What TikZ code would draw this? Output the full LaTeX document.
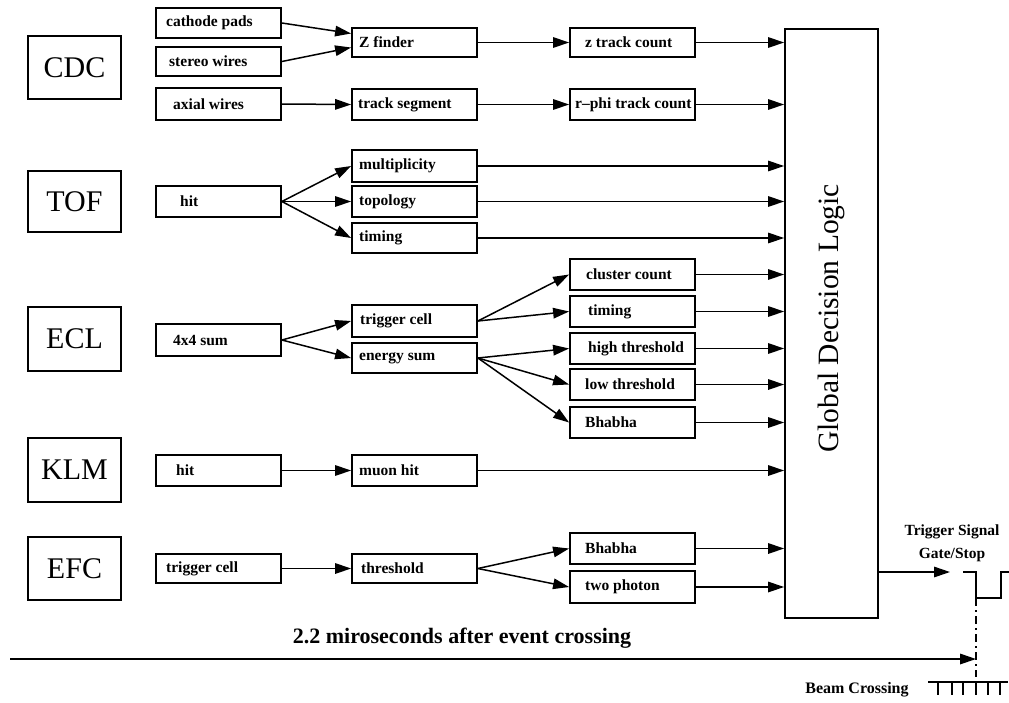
\documentclass[tikz,border=0pt]{standalone}
\usepackage{fontspec}
\setmainfont{Liberation Serif}
\usetikzlibrary{arrows.meta,fit}
\begin{document}
\begin{tikzpicture}[x=1pt,y=-1pt,
  box/.style={draw,line width=1.8pt,inner sep=0pt},
  lbl/.style={anchor=west,inner sep=0pt,font=\bfseries\fontsize{15.5}{15.5}\selectfont},
  big/.style={inner sep=0pt,font=\fontsize{30}{30}\selectfont},
  arr/.style={line width=1.5pt,-{Triangle[length=16pt,width=10.5pt]}},
  wire/.style={line width=1.5pt}]
\useasboundingbox (0,0) rectangle (1009,702);
% detector boxes
\node[box,fit={(28,36) (121,99)}] (cdc) {};
\node[big] (cdc-t) at (cdc.center) {CDC};
\node[box,fit={(28,171) (121,232)}] (tof) {};
\node[big] (tof-t) at (tof.center) {TOF};
\node[box,fit={(28,307) (121,371)}] (ecl) {};
\node[big] (ecl-t) at (ecl.center) {ECL};
\node[box,fit={(28,438) (121,502)}] (klm) {};
\node[big] (klm-t) at (klm.center) {KLM};
\node[box,fit={(28,537) (121,600)}] (efc) {};
\node[big] (efc-t) at (efc.center) {EFC};
% column 1
\node[box,fit={(156,8) (281,38)}] (cp) {};
\node[lbl] (cp-t) at (166,0 |- cp.center) {cathode pads};
\node[box,fit={(156,47) (281,76)}] (sw) {};
\node[lbl] (sw-t) at (169,0 |- sw.center) {stereo wires};
\node[box,fit={(156,88) (281,120)}] (aw) {};
\node[lbl] (aw-t) at (173,0 |- aw.center) {axial wires};
\node[box,fit={(156,186) (281,217)}] (th) {};
\node[lbl] (th-t) at (180,0 |- th.center) {hit};
\node[box,fit={(156,324) (281,356)}] (sum) {};
\node[lbl] (sum-t) at (173,0 |- sum.center) {4x4 sum};
\node[box,fit={(156,455) (281,486)}] (kh) {};
\node[lbl] (kh-t) at (176,0 |- kh.center) {hit};
\node[box,fit={(156,554) (281,583)}] (et) {};
\node[lbl] (et-t) at (166,0 |- et.center) {trigger cell};
% column 2
\node[box,fit={(352,28) (477,57)}] (zf) {};
\node[lbl] (zf-t) at (359,0 |- zf.center) {Z finder};
\node[box,fit={(352,89) (477,120)}] (ts) {};
\node[lbl] (ts-t) at (358,0 |- ts.center) {track segment};
\node[box,fit={(352,150) (477,182)}] (mu) {};
\node[lbl] (mu-t) at (359,0 |- mu.center) {multiplicity};
\node[box,fit={(352,186) (477,217)}] (to) {};
\node[lbl] (to-t) at (359,0 |- to.center) {topology};
\node[box,fit={(352,223) (477,253)}] (ti) {};
\node[lbl] (ti-t) at (359,0 |- ti.center) {timing};
\node[box,fit={(352,305) (477,337)}] (tc) {};
\node[lbl] (tc-t) at (360,0 |- tc.center) {trigger cell};
\node[box,fit={(352,343) (477,373)}] (en) {};
\node[lbl] (en-t) at (359,0 |- en.center) {energy sum};
\node[box,fit={(352,455) (477,486)}] (mh) {};
\node[lbl] (mh-t) at (359,0 |- mh.center) {muon hit};
\node[box,fit={(352,554) (477,583)}] (thr) {};
\node[lbl] (thr-t) at (361,0 |- thr.center) {threshold};
% column 3
\node[box,fit={(570,28) (695,57)}] (zt) {};
\node[lbl] (zt-t) at (585,0 |- zt.center) {z track count};
\node[box,fit={(570,89) (695,120)}] (rp) {};
\node[lbl] (rp-t) at (575,0 |- rp.center) {r--phi track count};
\node[box,fit={(570,259) (695,290)}] (cc) {};
\node[lbl] (cc-t) at (586,0 |- cc.center) {cluster count};
\node[box,fit={(570,296) (695,327)}] (tm) {};
\node[lbl] (tm-t) at (588,0 |- tm.center) {timing};
\node[box,fit={(570,333) (695,364)}] (ht) {};
\node[lbl] (ht-t) at (588,0 |- ht.center) {high threshold};
\node[box,fit={(570,369) (695,400)}] (lt) {};
\node[lbl] (lt-t) at (585,0 |- lt.center) {low threshold};
\node[box,fit={(570,407) (695,438)}] (bh) {};
\node[lbl] (bh-t) at (585,0 |- bh.center) {Bhabha};
\node[box,fit={(570,533) (695,564)}] (bh2) {};
\node[lbl] (bh2-t) at (585,0 |- bh2.center) {Bhabha};
\node[box,fit={(570,571) (695,603)}] (tp) {};
\node[lbl] (tp-t) at (585,0 |- tp.center) {two photon};
% global decision logic
\node[box,fit={(785,29) (878,618)}] (glob) {};
\node[inner sep=0pt,rotate=90,font=\fontsize{29.5}{29.5}\selectfont] (glob-t) at ([yshift=5pt]glob.center) {Global Decision Logic};
% connectors
\draw[arr] (cp.east) -- ([yshift=9pt]zf.west);
\draw[arr] (sw.east) -- ([yshift=-5pt]zf.west);
\draw[arr] (aw.east) -- (ts.west);
\draw[arr] (zf.east) -- (zt.west);
\draw[arr] (ts.east) -- (rp.west);
\draw[arr] (th.east) -- (mu.west);
\draw[arr] (th.east) -- (to.west);
\draw[arr] (th.east) -- (ti.west);
\draw[arr] (sum.east) -- (tc.west);
\draw[arr] (sum.east) -- (en.west);
\draw[arr] (tc.east) -- (cc.west);
\draw[arr] (tc.east) -- (tm.west);
\draw[arr] (en.east) -- (ht.west);
\draw[arr] (en.east) -- (lt.west);
\draw[arr] (en.east) -- (bh.west);
\draw[arr] (kh.east) -- (mh.west);
\draw[arr] (et.east) -- (thr.west);
\draw[arr] (thr.east) -- (bh2.west);
\draw[arr] (thr.east) -- (tp.west);
\foreach \n in {zt,rp,mu,to,ti,cc,tm,ht,lt,bh,mh,bh2,tp}
  \draw[arr] (\n.east) -- (\n.east -| glob.west);
% trigger output
\coordinate (sig) at (950,572);
\draw[arr] (glob.east |- sig) -- (sig);
\node[inner sep=0pt,align=center,font=\bfseries\fontsize{15.5}{23}\selectfont] (sig-t) at (952,543) {Trigger Signal\\Gate/Stop};
\coordinate (w0) at (963,572);
\coordinate (w1) at (976,572);
\coordinate (w2) at (976,598);
\coordinate (w3) at (1001,598);
\coordinate (w4) at (1001,572);
\coordinate (w5) at (1009,572);
\draw[wire] (w0) -- (w1) -- (w2) -- (w3) -- (w4) -- (w5);
\coordinate (dd) at (976,677);
\draw[wire,dash pattern=on 8pt off 4pt on 2pt off 4pt] (w2) -- (dd);
% time line
\coordinate (t0) at (10,659);
\coordinate (t1) at (976,659);
\draw[arr,line width=1.7pt] (t0) -- (t1);
\node[inner sep=0pt,font=\bfseries\fontsize{22}{22}\selectfont] (time-t) at (462,638) {2.2 miroseconds after event crossing};
% beam crossing comb
\node[inner sep=0pt,font=\bfseries\fontsize{16}{16}\selectfont] (bc-t) at (857,690) {Beam Crossing};
\coordinate (c0) at (928,682);
\coordinate (c1) at (1008,682);
\draw[wire] (c0) -- (c1);
\foreach \x in {938,952,963,976,988,1000}
  \draw[wire] (\x,682) -- (\x,695);
\end{tikzpicture}
\end{document}
